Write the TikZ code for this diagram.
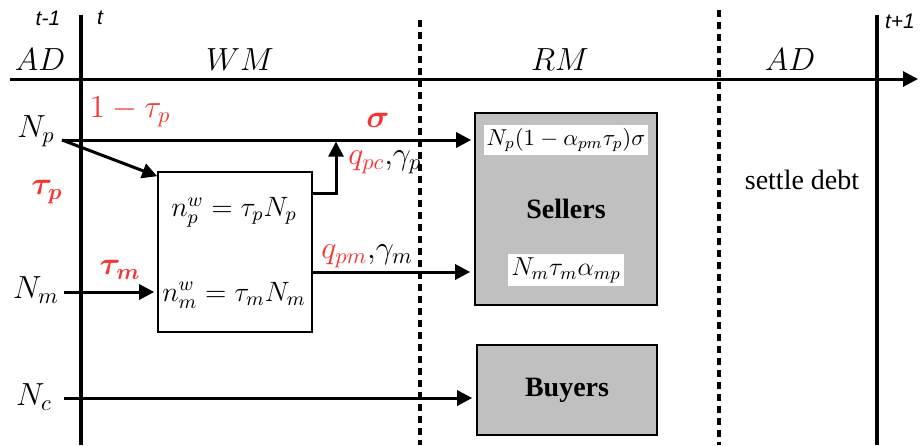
\documentclass[tikz,border=0pt]{standalone}
\usepackage{fix-cm}
\usepackage{amsmath,bm}
\usepackage[no-math]{fontspec}
\setmainfont{Liberation Serif}
\setsansfont{Liberation Sans}
\usetikzlibrary{arrows.meta}
\definecolor{lblred}{RGB}{250,50,50}
\definecolor{mktgray}{RGB}{192,192,192}

\begin{document}
\begin{tikzpicture}[
        x=0.5pt, y=-0.5pt,
        bigm/.style={font=\fontsize{16}{19}\selectfont, inner sep=1pt},
        redm/.style={bigm, text=lblred},
        tlbl/.style={font=\fontsize{10.5}{12}\selectfont\sffamily\itshape, inner sep=0pt},
        flow/.style={line width=1.5pt, -{Triangle[length=7.5pt,width=7.5pt]}},
        timeline/.style={line width=2pt},
        phase/.style={line width=2pt, dash pattern=on 3.5pt off 2.5pt},
        mkt/.style={draw, line width=0.8pt, fill=mktgray,
            font=\fontsize{14}{16}\selectfont\bfseries},
        eqn/.style={fill=white, inner sep=1.5pt, font=\fontsize{11.5}{13}\selectfont}
    ]
    \useasboundingbox (0,0) rectangle (920,445);

    % time line and phases
    \draw[timeline] (81,15) -- (81,445);
    \draw[timeline] (877,15) -- (877,445);
    \draw[phase] (420,20) -- (420,445);
    \draw[phase] (719,10) -- (719,445);
    \draw[flow] (10,79) -- (918,79);

    \node[tlbl] (tm1) at (48,18) {t-1};
    \node[tlbl] (t0) at (100,18) {t};
    \node[tlbl] (tp1) at (900,21) {t+1};

    \node[bigm] (ad1) at (40,60) {$AD$};
    \node[bigm] (wmlbl) at (240,60) {$WM$};
    \node[bigm] (rmlbl) at (560,60) {$RM$};
    \node[bigm] (ad2) at (790,60) {$AD$};

    % markets
    \node[mkt, minimum width=91pt, minimum height=96pt] (sellers) at (566,209) {Sellers};
    \node[mkt, minimum width=90pt, minimum height=45pt] (buyers) at (567,390) {Buyers};
    \node[eqn] (sp) at (566,140) {$N_p(1-\alpha_{pm}\tau_p)\sigma$};
    \node[eqn, font=\fontsize{13}{15}\selectfont] (sm) at (566,270) {$N_m\tau_m\alpha_{mp}$};

    \node[draw, line width=0.8pt, minimum width=77pt, minimum height=80pt] (wm) at (235,252) {};
    \node[font=\fontsize{14}{16}\selectfont, inner sep=0pt] (nwp) at (234,212) {$n^w_p=\tau_pN_p$};
    \node[font=\fontsize{14}{16}\selectfont, inner sep=0pt] (nwm) at (234,295) {$n^w_m=\tau_mN_m$};

    % populations
    \node[bigm] (Np) at (36,131) {$N_p$};
    \node[bigm] (Nm) at (36,290) {$N_m$};
    \node[bigm] (Nc) at (34,397) {$N_c$};

    \coordinate (np0) at (62,140);
    \coordinate (nm0) at (64,292);
    \coordinate (nc0) at (64,398);
    \coordinate (qpc) at (336,193);
    \coordinate (qpm) at (336,272);

    \draw[flow, shorten >=1.5pt] (np0) -- (np0 -| sellers.west);
    \draw[flow] (np0) -- ([yshift=-2.5pt]wm.north west);
    \draw[flow, shorten >=0.8pt] (qpc -| wm.east) -- (qpc) -- (qpc |- np0);
    \draw[flow, shorten >=2pt] (qpm -| wm.east) -- (qpm -| sellers.west);
    \draw[flow, shorten >=1.5pt] (nm0) -- (nm0 -| wm.west);
    \draw[flow, shorten >=2pt] (nc0) -- (nc0 -| buyers.west);

    % flow labels
    \node[redm] (omt) at (130,112) {$1-\tau_p$};
    \node[redm] (sig) at (378,120) {$\bm{\sigma}$};
    \node[redm] (taup) at (47,192) {$\bm{\tau_p}$};
    \node[redm] (taum) at (120,270) {$\bm{\tau_m}$};
    \node[bigm, anchor=west] (qpclbl) at (346,162) {$\textcolor{lblred}{q_{pc}}{,}\gamma_p$};
    \node[bigm, anchor=west] (qpmlbl) at (319,256) {$\textcolor{lblred}{q_{pm}}{,}\gamma_m$};
    \node[font=\fontsize{14}{16}\selectfont] (settle) at (802,180) {settle debt};
\end{tikzpicture}
\end{document}
